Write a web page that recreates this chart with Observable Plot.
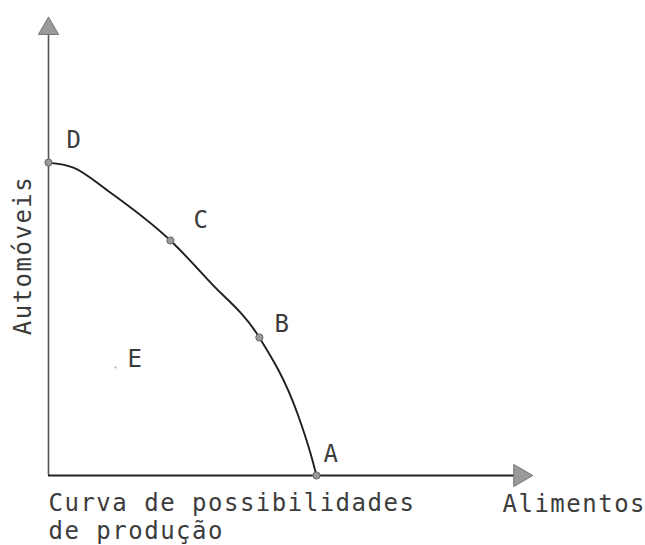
<!DOCTYPE html>
<html>
<head>
<meta charset="utf-8">
<script src="https://cdn.jsdelivr.net/npm/d3@7"></script>
<script src="https://cdn.jsdelivr.net/npm/@observablehq/plot@0.6"></script>
<style>
  html, body { margin: 0; padding: 0; background: #fff; }
</style>
</head>
<body>
<div id="chart"></div>
<script>
// Frontier (Alimentos, Automóveis), D -> A
const curveX = [0, 9.3, 22, 45.5, 60.4, 78.7, 92.9, 97.8, 100];
const curveY = [100, 98.4, 91.1, 75.1, 61.7, 44.1, 19.8, 7.0, 0];

// Named points on the frontier
const pointNames = ["A", "B", "C", "D"];
const pointX = [100, 78.7, 45.5, 0];
const pointY = [0, 44.1, 75.1, 100];

// Interior point E
const eName = ["E"];
const eX = [25];
const eY = [34.5];

// Axes extents (arrow tips)
const xMax = 181;
const yMax = 147;
const xArrow = [176];
const yArrow = [142.8];

const xLabel = "Alimentos";
const yLabel = "Automóveis";
const caption = "Curva de possibilidades\nde produção";

const curve = curveX.map((x, i) => ({x, y: curveY[i]}));
const points = pointNames.map((name, i) => ({name, x: pointX[i], y: pointY[i]}));
const eData = eName.map((name, i) => ({name, x: eX[i], y: eY[i]}));

const font = "DejaVu Sans Mono";
const ink = "#3c3c3c";

function label(name, dx, dy) {
  return Plot.text(points.filter(d => d.name === name), {
    x: "x", y: "y", text: "name", dx, dy,
    fontFamily: font, fontSize: 24, fill: ink, textAnchor: "middle", lineAnchor: "middle"
  });
}

const chart = Plot.plot({
  width: 645,
  height: 545,
  marginLeft: 48,
  marginRight: 112,
  marginTop: 15,
  marginBottom: 70,
  x: {domain: [0, xMax], axis: null},
  y: {domain: [0, yMax], axis: null},
  style: {background: "#fff", letterSpacing: "1.5px"},
  marks: [
    // axes
    Plot.ruleX([0], {x: d => d, y1: 0, y2: yArrow[0], stroke: "#555", strokeWidth: 1.6}),
    Plot.ruleY([0], {y: d => d, x1: 0, x2: xArrow[0], stroke: "#222", strokeWidth: 2.2}),
    Plot.dot(xArrow, {x: d => d, y: 0, symbol: "triangle", r: 8.2, rotate: 90, fill: "#9a9a9a", stroke: "#777", strokeWidth: 1}),
    Plot.dot(yArrow, {x: 0, y: d => d, symbol: "triangle", r: 7.5, fill: "#9a9a9a", stroke: "#777", strokeWidth: 1}),
    // frontier
    Plot.line(curve, {x: "x", y: "y", curve: "monotone-x", stroke: "#1e1e1e", strokeWidth: 1.9}),
    Plot.dot(points, {x: "x", y: "y", r: 3.6, fill: "#999", stroke: "#666", strokeWidth: 1}),
    Plot.dot(eData, {x: "x", y: "y", r: 1, fill: "#aaa"}),
    // point labels
    label("D", 26, -22),
    label("C", 31, -20),
    label("B", 23, -13),
    label("A", 15, -21),
    Plot.text(eData, {x: "x", y: "y", text: "name", dx: 20, dy: -8,
      fontFamily: font, fontSize: 24, fill: ink, textAnchor: "middle", lineAnchor: "middle"}),
    // axis titles & caption
    Plot.text([xLabel], {frameAnchor: "bottom-right", text: d => d, dx: -31, dy: 29,
      textAnchor: "start", lineAnchor: "middle", fontFamily: font, fontSize: 24, fill: ink}),
    Plot.text([yLabel], {frameAnchor: "left", text: d => d, dx: -25, dy: 10, rotate: -90,
      textAnchor: "middle", lineAnchor: "middle", fontFamily: font, fontSize: 24, fill: ink}),
    Plot.text([caption], {frameAnchor: "bottom-left", text: d => d, dx: 0, dy: 15, lineHeight: 1.18,
      textAnchor: "start", lineAnchor: "top", fontFamily: font, fontSize: 24, fill: ink})
  ]
});

document.getElementById("chart").appendChild(chart);
</script>
</body>
</html>
